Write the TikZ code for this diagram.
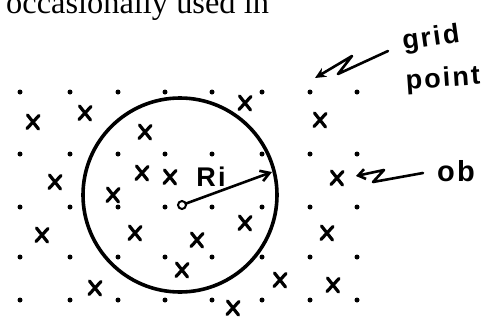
\documentclass[tikz,border=0pt]{standalone}
\usepackage{fontspec}
\setmainfont{Liberation Serif}
\newfontfamily\handfont[LetterSpace=8]{Liberation Sans}
\usetikzlibrary{arrows.meta}
\begin{document}
\begin{tikzpicture}[x=1pt,y=-1pt,
  gdot/.style={circle, fill=black, inner sep=0pt, minimum size=5pt},
  hand/.style={font=\handfont\bfseries\fontsize{27}{27}\selectfont, inner sep=0pt},
  pen/.style={line width=2.6pt, line cap=round, line join=round},
  xmark/.pic={\draw[line width=3.2pt, line cap=round] (-5.5,-7) -- (5.5,7) (-6,6.5) -- (6,-6.5);}
]
\useasboundingbox (0,0) rectangle (493,322);
% cropped text line at top
\node[anchor=base west, inner sep=0pt, font=\fontsize{32.4}{34}\selectfont] (toptext) at (6,13) {occasionally used in};
% grid points
\foreach \y [count=\r] in {92,154,207,257,300}{
  \foreach \x [count=\c] in {20,70,118,165,212,262,310,357}{
    \node[gdot] (d-\r-\c) at (\x,\y) {};
  }
}
% observation crosses
\foreach \p/\q in {33/122,85/113,145/132,245/103,320/120,55/182,142/173,170/177,113/195,337/178,
                   245/223,42/235,135/233,197/240,182/270,95/288,233/308,280/280,333/285,327/233}{
  \pic at (\p,\q) {xmark};
}
% influence circle
\draw[line width=3.6pt] (180,195) circle [radius=97];
\node[circle, draw, line width=2pt, inner sep=0pt, minimum size=8pt, fill=white] (ctr) at (182,205) {};
\coordinate (ritip) at (272,172);
\draw[pen, -{Straight Barb[length=9pt,width=11pt,line width=2.6pt]}] (ctr) -- (ritip);
\node[hand] (ri) at (211,177) {Ri};
% grid point label and arrow
\node[hand, rotate=8] (grid) at (431,39) {grid};
\node[hand, rotate=4] (point) at (443,80) {point};
\coordinate (g0) at (388,51);
\coordinate (g1) at (338,74);
\coordinate (g2) at (352,56);
\coordinate (gtip) at (315,78);
\draw[pen, -{Stealth[length=11pt,width=10pt]}] (g0) -- (g1) -- (g2) -- (gtip);
% ob label and arrow
\node[hand, font=\handfont\bfseries\fontsize{29}{29}\selectfont] (ob) at (456,171) {ob};
\coordinate (o0) at (423,173);
\coordinate (o1) at (373,182);
\coordinate (o2) at (384,170);
\coordinate (otip) at (356,176);
\draw[pen, -{Straight Barb[length=7pt,width=10pt,line width=2.6pt]}] (o0) -- (o1) -- (o2) -- (otip);
\end{tikzpicture}
\end{document}
